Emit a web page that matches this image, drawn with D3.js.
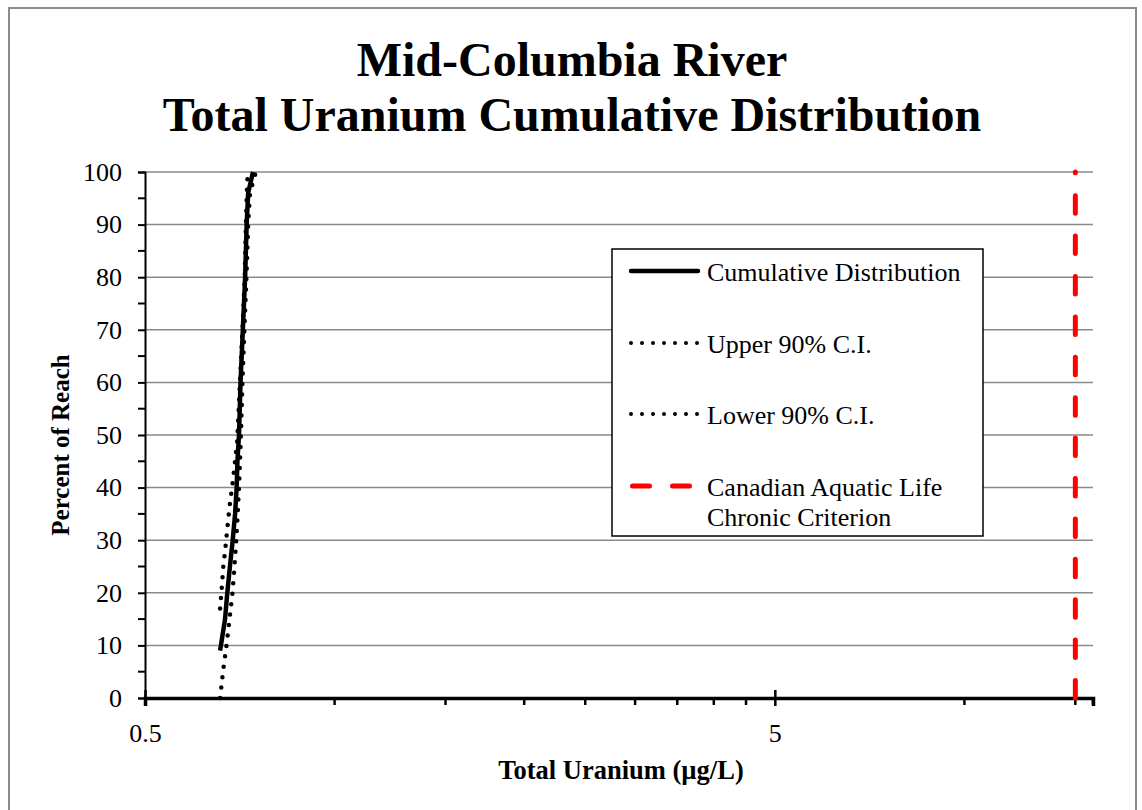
<!DOCTYPE html>
<html>
<head>
<meta charset="utf-8">
<script src="https://cdn.jsdelivr.net/npm/d3@7"></script>
<style>
  body { margin: 0; background: #fff; }
  text { font-family: "Liberation Serif", "Times New Roman", serif; }
</style>
</head>
<body>
<div id="chart"></div>
<script>
// percent of reach (y) and total uranium ug/L (x)
let cumPct = [9, 15, 20, 25, 30, 35, 40, 45, 50, 60, 70, 80, 90, 96, 100];
let cumVal = [0.658, 0.670, 0.6755, 0.682, 0.689, 0.695, 0.699, 0.701, 0.705, 0.709, 0.715, 0.721, 0.725, 0.729, 0.742];

let upperPct = [17, 21, 25, 29, 33, 37, 41, 45, 49, 60, 70, 80, 90, 97, 100];
let upperVal = [0.658, 0.662, 0.6657, 0.6715, 0.6765, 0.682, 0.689, 0.695, 0.7005, 0.7075, 0.714, 0.720, 0.723, 0.726, 0.728];

let lowerPct = [0, 5, 10, 15, 20, 25, 30, 35, 40, 45, 50, 60, 70, 80, 90, 96, 100];
let lowerVal = [0.658, 0.665, 0.6735, 0.681, 0.6885, 0.6935, 0.698, 0.7016, 0.705, 0.7076, 0.710, 0.714, 0.719, 0.7245, 0.729, 0.734, 0.750];

let criterion = 15;

let yTicks = [0, 10, 20, 30, 40, 50, 60, 70, 80, 90, 100];
let yMinor = [5, 15, 25, 35, 45, 55, 65, 75, 85, 95];
let xMajor = [0.5, 5];
let xMinor = [1, 1.5, 2, 2.5, 3, 3.5, 4, 4.5, 10, 15, 16];

let legendItems = [
  { name: ["Cumulative Distribution"], kind: "solid" },
  { name: ["Upper 90% C.I."], kind: "dot" },
  { name: ["Lower 90% C.I."], kind: "dot" },
  { name: ["Canadian Aquatic Life", "Chronic Criterion"], kind: "dash" }
];

let W = 1142, H = 810;
let pLeft = 145, pRight = 1093, pTop = 172, pBottom = 698;

let svg = d3.select("#chart").append("svg")
  .attr("width", W)
  .attr("height", H);

// outer frame
svg.append("rect")
  .attr("x", 9).attr("y", 8)
  .attr("width", 1127).attr("height", 820)
  .attr("fill", "white")
  .attr("stroke", "#8c8c8c")
  .attr("stroke-width", 2);

let x = d3.scaleLog().domain([0.5, 16]).range([pLeft, pRight]);
let y = d3.scaleLinear().domain([0, 100]).range([pBottom, pTop]);

// title
let title = svg.append("text")
  .attr("text-anchor", "middle")
  .attr("font-weight", "bold")
  .attr("font-size", 48);
title.append("tspan").attr("x", 572).attr("y", 76).text("Mid-Columbia River");
title.append("tspan").attr("x", 572).attr("y", 131).text("Total Uranium Cumulative Distribution");

// gridlines
svg.append("g").selectAll("line")
  .data(yTicks.filter(d => d > 0))
  .enter().append("line")
  .attr("x1", pLeft).attr("x2", pRight)
  .attr("y1", d => y(d)).attr("y2", d => y(d))
  .attr("stroke", "#8a8a8a")
  .attr("stroke-width", 1.5);

// y axis
let yAxis = svg.append("g")
  .attr("transform", "translate(" + pLeft + ",0)")
  .call(d3.axisLeft(y).tickValues(yTicks).tickSize(7).tickPadding(16));
yAxis.select(".domain").attr("stroke", "black").attr("stroke-width", 2);
yAxis.selectAll(".tick line").attr("stroke-width", 2);
yAxis.selectAll("text")
  .attr("font-family", "Liberation Serif, Times New Roman, serif")
  .attr("font-size", 26)
  .attr("fill", "black");

svg.append("g").selectAll("line")
  .data(yMinor)
  .enter().append("line")
  .attr("x1", pLeft - 7).attr("x2", pLeft)
  .attr("y1", d => y(d)).attr("y2", d => y(d))
  .attr("stroke", "black")
  .attr("stroke-width", 2);

// x axis
let xAxis = svg.append("g")
  .attr("transform", "translate(0," + pBottom + ")")
  .call(d3.axisBottom(x).tickValues(xMajor).tickFormat(d3.format("")).tickSize(8).tickPadding(18));
xAxis.select(".domain").attr("stroke", "black").attr("stroke-width", 3.5);
xAxis.selectAll(".tick line").attr("y1", -8).attr("stroke-width", 2.5);
xAxis.selectAll("text")
  .attr("font-family", "Liberation Serif, Times New Roman, serif")
  .attr("font-size", 26)
  .attr("fill", "black");

svg.append("g").selectAll("line")
  .data(xMinor)
  .enter().append("line")
  .attr("x1", d => x(d)).attr("x2", d => x(d))
  .attr("y1", pBottom).attr("y2", pBottom + 7)
  .attr("stroke", "black")
  .attr("stroke-width", 2.5);

// axis titles
svg.append("text")
  .attr("x", 621).attr("y", 779)
  .attr("text-anchor", "middle")
  .attr("font-weight", "bold")
  .attr("font-size", 26.5)
  .text("Total Uranium (\u00b5g/L)");

svg.append("text")
  .attr("transform", "translate(69,445) rotate(-90)")
  .attr("text-anchor", "middle")
  .attr("font-weight", "bold")
  .attr("font-size", 25)
  .text("Percent of Reach");

// series
let line = d3.line()
  .x(d => x(d[0]))
  .y(d => y(d[1]));

function pairs(vals, pcts) { return vals.map((v, i) => [v, pcts[i]]); }

svg.append("path")
  .attr("d", line(pairs(upperVal, upperPct)))
  .attr("fill", "none")
  .attr("stroke", "black")
  .attr("stroke-width", 4.5)
  .attr("stroke-linecap", "round")
  .attr("stroke-dasharray", "0,10.5");

svg.append("path")
  .attr("d", line(pairs(lowerVal, lowerPct)))
  .attr("fill", "none")
  .attr("stroke", "black")
  .attr("stroke-width", 4.5)
  .attr("stroke-linecap", "round")
  .attr("stroke-dasharray", "0,10.5");

svg.append("path")
  .attr("d", line(pairs(cumVal, cumPct)))
  .attr("fill", "none")
  .attr("stroke", "black")
  .attr("stroke-width", 4.5);

// criterion line
svg.append("line")
  .attr("x1", x(criterion)).attr("x2", x(criterion))
  .attr("y1", y(0)).attr("y2", y(100))
  .attr("stroke", "#ff0000")
  .attr("stroke-width", 5)
  .attr("stroke-linecap", "round")
  .attr("stroke-dasharray", "17.5,22.9");

// legend
let lg = svg.append("g");
lg.append("rect")
  .attr("x", 612).attr("y", 249)
  .attr("width", 371).attr("height", 287)
  .attr("fill", "white")
  .attr("stroke", "black")
  .attr("stroke-width", 1.5);

let rowY = [271, 343, 414, 486];
legendItems.forEach((d, i) => {
  let ly = rowY[i];
  let s = lg.append("line")
    .attr("x1", 631).attr("x2", 698)
    .attr("y1", ly).attr("y2", ly)
    .attr("stroke-linecap", "round");
  if (d.kind == "solid") {
    s.attr("stroke", "black").attr("stroke-width", 4.5);
  }
  else if (d.kind == "dot") {
    s.attr("stroke", "black").attr("stroke-width", 4).attr("stroke-dasharray", "0,11");
  }
  else {
    s.attr("x1", 632.5).attr("x2", 689.5)
      .attr("stroke", "#ff0000").attr("stroke-width", 5).attr("stroke-dasharray", "17,23");
  }
  d.name.forEach((t, j) => {
    lg.append("text")
      .attr("x", 707).attr("y", ly + 9.5 + j * 30)
      .attr("font-size", 26)
      .text(t);
  });
});
</script>
</body>
</html>
